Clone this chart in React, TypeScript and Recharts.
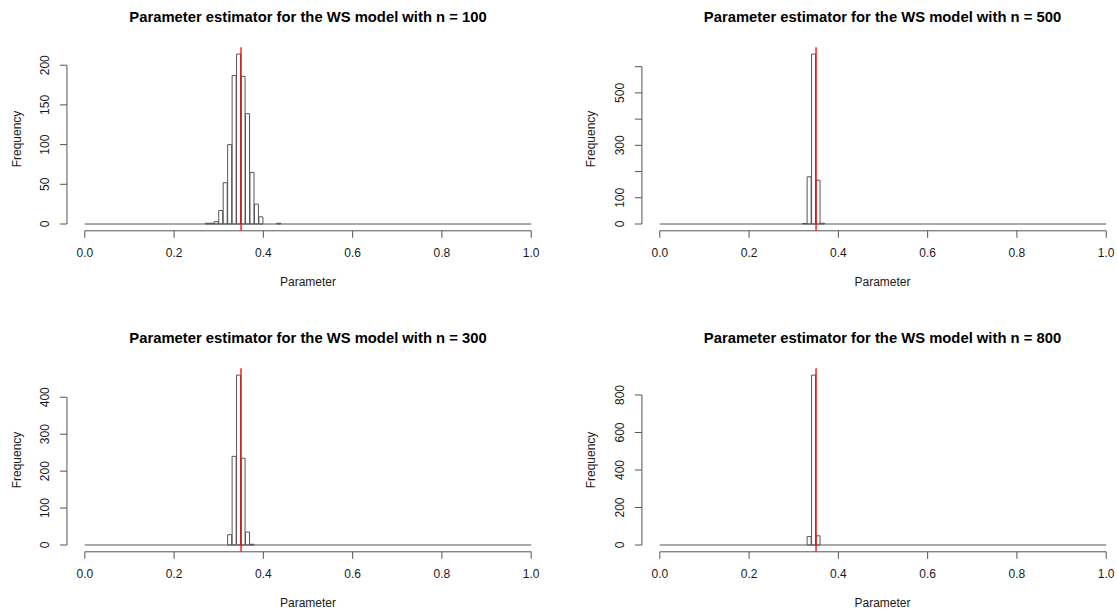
import React from 'react';
import { ComposedChart, Bar, XAxis, YAxis, ReferenceLine } from 'recharts';

// ---------- data ----------
const sampleSizes = [100, 500, 300, 800];

const binStarts100 = [0.27, 0.28, 0.29, 0.3, 0.31, 0.32, 0.33, 0.34, 0.35, 0.36, 0.37, 0.38, 0.39, 0.43];
const freq100 = [1, 1, 3, 17, 52, 100, 187, 214, 186, 139, 65, 25, 9, 1];

const binStarts500 = [0.32, 0.33, 0.34, 0.35, 0.36];
const freq500 = [2, 180, 648, 167, 3];

const binStarts300 = [0.32, 0.33, 0.34, 0.35, 0.36, 0.37];
const freq300 = [28, 240, 460, 235, 35, 2];

const binStarts800 = [0.33, 0.34, 0.35];
const freq800 = [45, 906, 49];

const xTicks = [0, 0.2, 0.4, 0.6, 0.8, 1.0];
const xTickLabels = ['0.0', '0.2', '0.4', '0.6', '0.8', '1.0'];

const yTicks100 = [0, 50, 100, 150, 200];
const yLabels100 = ['0', '50', '100', '150', '200'];
const yTicks500 = [0, 100, 200, 300, 400, 500, 600];
const yLabels500 = ['0', '100', '', '300', '', '500', ''];
const yTicks300 = [0, 100, 200, 300, 400];
const yLabels300 = ['0', '100', '200', '300', '400'];
const yTicks800 = [0, 200, 400, 600, 800];
const yLabels800 = ['0', '200', '400', '600', '800'];

const trueParam = 0.35;
const binWidth = 0.01;
const xMin = 0;
const xMax = 1;

// ---------- layout ----------
const FONT = '"Liberation Sans", Arial, Helvetica, sans-serif';
const TEXT = '#1a1a1a';
const INK = '#555';
const CHART_W = 560;
const CHART_H = 306;
const PX_PER_UNIT = 446.4;
const ZERO_X = 84.8;
const PLOT_LEFT = ZERO_X - 0.04 * PX_PER_UNIT;
const PLOT_RIGHT = ZERO_X + 1.04 * PX_PER_UNIT;
const PLOT_TOP = 47.3;
const PLOT_BOTTOM = 230.8;
const XAXIS_H = 40;
const COL_OFFSET = 574.5;
const ROW_OFFSET = 320.9;

const N_BINS = Math.round((xMax - xMin + 0.08) / binWidth);
const BAND = (PLOT_RIGHT - PLOT_LEFT) / N_BINS;

function buildTable(starts: number[], freqs: number[]) {
  const rows: { bin: string; mid: number; count: number | null }[] = [];
  for (let i = 0; i < N_BINS; i++) {
    const k = Math.round((xMin - 0.04) * 100) + i;
    const start = k / 100;
    const idx = starts.findIndex((s) => Math.round(s * 100) === k);
    rows.push({ bin: start.toFixed(2), mid: start + binWidth / 2, count: idx >= 0 ? freqs[idx] : null });
  }
  return rows;
}

const XTick = (props: any) => {
  const { x, y, payload } = props;
  const i = xTicks.findIndex((t) => Math.abs(t - payload.value) < 1e-9);
  return (
    <text x={x} y={y + 15} textAnchor="middle" dominantBaseline="central" fontSize={12} fontFamily={FONT} fill={TEXT}>
      {i >= 0 ? xTickLabels[i] : ''}
    </text>
  );
};

const makeYTick = (ticks: number[], labels: string[]) => (props: any) => {
  const { x, y, payload } = props;
  const i = ticks.findIndex((t) => t === payload.value);
  const bx = x - 10.7;
  return (
    <text x={bx} y={y} transform={`rotate(-90 ${bx} ${y})`} textAnchor="middle" fontSize={12} fontFamily={FONT} fill={TEXT}>
      {i >= 0 ? labels[i] : ''}
    </text>
  );
};

type PanelProps = {
  n: number;
  starts: number[];
  freqs: number[];
  yTicks: number[];
  yLabels: string[];
  left: number;
  top: number;
};

function Panel({ n, starts, freqs, yTicks, yLabels, left, top }: PanelProps) {
  const data = buildTable(starts, freqs);
  const m = Math.max(...freqs);
  const yLo = -0.04 * m;
  const yHi = 1.04 * m;
  const cx = (PLOT_LEFT + PLOT_RIGHT) / 2;
  const cy = (PLOT_TOP + PLOT_BOTTOM) / 2;
  return (
    <div style={{ position: 'absolute', left, top, width: CHART_W, height: CHART_H }}>
      <div
        style={{
          position: 'absolute', left: cx - 250, top: 17 - 9, width: 500, height: 18, lineHeight: '18px',
          textAlign: 'center', fontFamily: FONT, fontWeight: 'bold', fontSize: 14.8, color: '#000', whiteSpace: 'nowrap',
        }}
      >
        {`Parameter estimator for the WS model with n = ${n}`}
      </div>
      <ComposedChart
        width={CHART_W}
        height={CHART_H}
        data={data}
        barCategoryGap={0}
        barGap={0}
        margin={{ top: PLOT_TOP, right: CHART_W - PLOT_RIGHT, bottom: CHART_H - PLOT_BOTTOM - XAXIS_H, left: 0 }}
      >
        <XAxis xAxisId="cat" dataKey="bin" type="category" orientation="top" height={0} hide />
        <XAxis
          xAxisId="num"
          dataKey="mid"
          type="number"
          orientation="bottom"
          domain={[xMin - 0.04, xMax + 0.04]}
          allowDataOverflow
          ticks={xTicks}
          interval={0}
          axisLine={false}
          tickLine={{ stroke: INK, strokeWidth: 1 }}
          tickSize={7}
          tickMargin={0}
          height={XAXIS_H}
          tick={<XTick />}
        />
        <YAxis
          type="number"
          domain={[yLo, yHi]}
          allowDataOverflow
          ticks={yTicks}
          interval={0}
          axisLine={false}
          tickLine={{ stroke: INK, strokeWidth: 1 }}
          tickSize={7}
          tickMargin={0}
          width={PLOT_LEFT}
          tick={makeYTick(yTicks, yLabels)}
        />
        <ReferenceLine
          xAxisId="num"
          segment={[{ x: xMin, y: 0 }, { x: xMax, y: 0 }]}
          stroke={INK}
          strokeWidth={1}
          ifOverflow="visible"
        />
        <Bar
          xAxisId="cat"
          dataKey="count"
          fill="none"
          stroke={INK}
          strokeWidth={1}
          barSize={BAND}
          isAnimationActive={false}
        />
        <ReferenceLine
          xAxisId="num"
          segment={[{ x: xMin, y: yLo }, { x: xMax, y: yLo }]}
          stroke={INK}
          strokeWidth={1}
          ifOverflow="visible"
        />
        <ReferenceLine
          xAxisId="num"
          segment={[{ x: xMin - 0.04, y: 0 }, { x: xMin - 0.04, y: yTicks[yTicks.length - 1] }]}
          stroke={INK}
          strokeWidth={1}
          ifOverflow="visible"
        />
        <ReferenceLine xAxisId="num" x={trueParam} stroke="#ff0000" strokeWidth={1.3} ifOverflow="visible" />
      </ComposedChart>
      <div
        style={{
          position: 'absolute', left: cx - 100, top: PLOT_BOTTOM + 51 - 7, width: 200, height: 14, lineHeight: '14px',
          textAlign: 'center', fontFamily: FONT, fontSize: 12, color: TEXT,
        }}
      >
        Parameter
      </div>
      <div
        style={{
          position: 'absolute', left: PLOT_LEFT - 50 - 50, top: cy - 7, width: 100, height: 14, lineHeight: '14px',
          textAlign: 'center', fontFamily: FONT, fontSize: 12, color: TEXT, transform: 'rotate(-90deg)',
        }}
      >
        Frequency
      </div>
    </div>
  );
}

export default function App() {
  return (
    <div style={{ position: 'absolute', left: 0, top: 0, width: 1117, height: 613, overflow: 'hidden', background: '#fff' }}>
      <Panel n={sampleSizes[0]} starts={binStarts100} freqs={freq100} yTicks={yTicks100} yLabels={yLabels100} left={0} top={0} />
      <Panel n={sampleSizes[1]} starts={binStarts500} freqs={freq500} yTicks={yTicks500} yLabels={yLabels500} left={COL_OFFSET} top={0} />
      <Panel n={sampleSizes[2]} starts={binStarts300} freqs={freq300} yTicks={yTicks300} yLabels={yLabels300} left={0} top={ROW_OFFSET} />
      <Panel n={sampleSizes[3]} starts={binStarts800} freqs={freq800} yTicks={yTicks800} yLabels={yLabels800} left={COL_OFFSET} top={ROW_OFFSET} />
    </div>
  );
}
